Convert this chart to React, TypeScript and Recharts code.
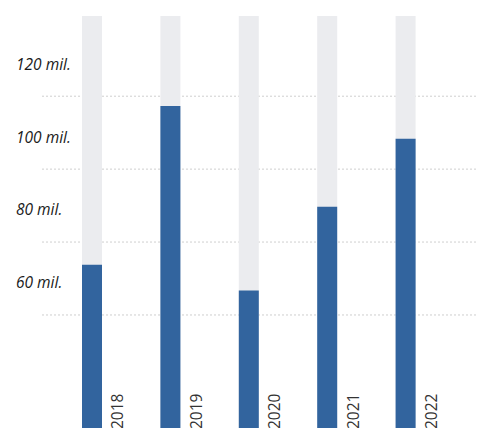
import { BarChart, Bar, XAxis, YAxis, CartesianGrid, LabelList } from "recharts";

// values in millions
const years = ["2018", "2019", "2020", "2021", "2022"];
const values = [73.8, 117.3, 66.7, 89.7, 108.3];
const yTicks = [60, 80, 100, 120];
const yDomain = [29, 142];

const data = years.map((y, i) => ({ year: y, value: values[i] }));

function YTick({ y, payload }: any) {
  return (
    <text x={16} y={y - 32} dy="0.35em" textAnchor="start"
      style={{ fontFamily: "'Open Sans', sans-serif", fontStyle: "italic", fontSize: 15.5, fill: "#1a1a1a" }}>
      {`${payload.value} mil.`}
    </text>
  );
}

function YearLabel({ x, y, width, height, value }: any) {
  const tx = x + width + 16;
  const ty = y + height + 1;
  return (
    <text x={tx} y={ty} dy="0.35em" textAnchor="start" transform={`rotate(-90, ${tx}, ${ty})`}
      style={{ fontFamily: "'Open Sans', sans-serif", fontSize: 15.5, fill: "#333" }}>
      {value}
    </text>
  );
}

// grid only at the tick values, not at the plot edges
const gridCoords = (props: any) => {
  const s = props?.yAxis?.scale;
  if (typeof s === "function") return yTicks.map((t) => s(t));
  const off = props?.offset ?? { top: 16, height: 412 };
  const [lo, hi] = yDomain;
  return yTicks.map((t) => off.top + ((hi - t) / (hi - lo)) * off.height);
};

export default function App() {
  return (
    <div style={{ position: "absolute", left: 0, top: 0, width: 478, height: 428, background: "#fff" }}>
      <BarChart width={478} height={428} data={data} barSize={20}
        margin={{ top: 16, right: 0, bottom: 0, left: 0 }}>
        <CartesianGrid vertical={false} stroke="#cfcfcf" strokeDasharray="2 2"
          horizontalCoordinatesGenerator={gridCoords} />
        <XAxis dataKey="year" hide padding={{ left: 11, right: 33 }} />
        <YAxis type="number" domain={yDomain} ticks={yTicks} width={42}
          axisLine={false} tickLine={false} tick={<YTick />} />
        <Bar dataKey="value" fill="#32649e" background={{ fill: "#ebecef" }} isAnimationActive={false}>
          <LabelList dataKey="year" content={<YearLabel />} />
        </Bar>
      </BarChart>
    </div>
  );
}
